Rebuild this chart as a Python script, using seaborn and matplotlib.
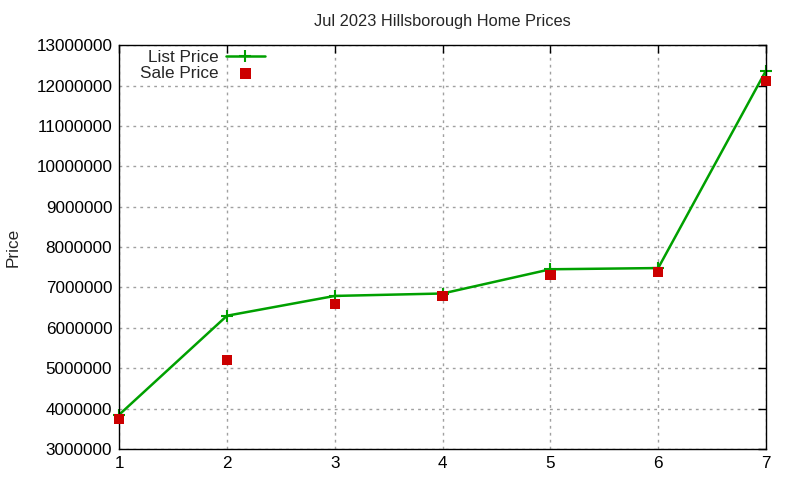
import pandas as pd
import matplotlib
matplotlib.use("Agg")
import matplotlib.pyplot as plt
import seaborn as sns

# Values
months = [1, 2, 3, 4, 5, 6, 7]
list_price = [3850000, 6300000, 6790000, 6850000, 7450000, 7480000, 12370000]
sale_price = [3740000, 5210000, 6590000, 6780000, 7310000, 7380000, 12120000]
yticks = list(range(3000000, 13000001, 1000000))

data = pd.DataFrame({'x': months, 'List Price': list_price, 'Sale Price': sale_price})

sns.set_style('white')
plt.rcParams['font.family'] = ['Liberation Sans', 'DejaVu Sans']

fig = plt.figure(figsize=(8, 4.8), dpi=100)
ax = fig.add_axes([0.149, 0.0646, 0.8085, 0.8414])

sns.lineplot(data=data, x='x', y='List Price', ax=ax, color='#00a000', linewidth=1.8,
             marker='+', markersize=9, markeredgewidth=1.5, markeredgecolor='#00a000',
             label='List Price', clip_on=False)
sns.scatterplot(data=data, x='x', y='Sale Price', ax=ax, color='#cc0000', marker='s',
                s=55, edgecolor='none', label='Sale Price', zorder=3, clip_on=False)

ax.set_xlim(1, 7)
ax.set_ylim(3000000, 13000000)
ax.set_xticks(months)
ax.set_yticks(yticks)
ax.set_yticklabels([str(v) for v in yticks])
ax.tick_params(direction='in', length=6, width=1, top=True, right=True,
               labelsize=12.3, colors='black', pad=5)
for s in ax.spines.values():
    s.set_visible(True)
    s.set_color('black')
    s.set_linewidth(1)
ax.grid(True, color='#a0a0a0', linestyle=(0, (2, 3)), linewidth=1)
ax.set_axisbelow(True)

ax.set_xlabel('')
ax.set_ylabel('Price', fontsize=12.3)
ax.yaxis.set_label_coords(-0.153, 0.5)
ax.set_title('Jul 2023 Hillsborough Home Prices', fontsize=11.8, pad=14)

leg = ax.legend(loc='upper left', frameon=False, markerfirst=False, fontsize=12.3,
                handlelength=2.3, handletextpad=0.4, borderaxespad=0.0,
                labelspacing=0.08, bbox_to_anchor=(0.022, 1.006))

plt.savefig('out.png', dpi=100)
